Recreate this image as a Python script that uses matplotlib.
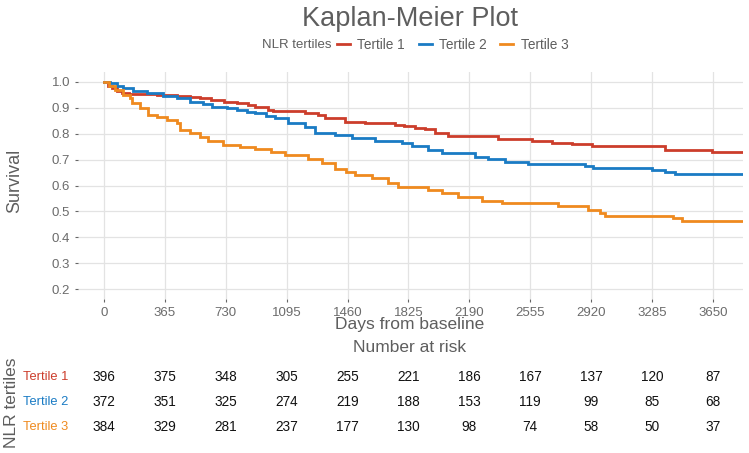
import matplotlib
matplotlib.use("Agg")
import matplotlib.pyplot as plt
from matplotlib.lines import Line2D

plt.rcParams['font.family'] = ['Liberation Sans Narrow', 'Liberation Sans', 'DejaVu Sans']

# ---- data ----
t1_days = [0, 25, 50, 76, 110, 150, 216, 316, 436, 516, 576, 640, 720, 800, 860, 905, 985, 1010, 1205, 1285, 1325,
           1445, 1565, 1744, 1800, 1864, 1924, 1984, 2064, 2364, 2564, 2684, 2804, 2923, 3362, 3642, 3840]
t1_surv = [1.0, 0.985, 0.975, 0.965, 0.959, 0.955, 0.952, 0.950, 0.946, 0.941, 0.937, 0.930, 0.924, 0.918, 0.910,
           0.905, 0.892, 0.889, 0.882, 0.873, 0.860, 0.847, 0.840, 0.834, 0.828, 0.821, 0.817, 0.802, 0.792, 0.781,
           0.772, 0.766, 0.759, 0.751, 0.737, 0.728, 0.728]

t2_days = [0, 36, 76, 116, 176, 256, 356, 436, 516, 595, 650, 736, 800, 856, 905, 970, 1025, 1103, 1205, 1265, 1385,
           1484, 1624, 1784, 1844, 1944, 2024, 2224, 2304, 2404, 2544, 2883, 2933, 3283, 3363, 3423, 3840]
t2_surv = [1.0, 0.995, 0.985, 0.976, 0.966, 0.956, 0.946, 0.937, 0.924, 0.915, 0.905, 0.898, 0.890, 0.885, 0.879,
           0.870, 0.860, 0.840, 0.827, 0.804, 0.795, 0.783, 0.770, 0.763, 0.753, 0.737, 0.725, 0.712, 0.703, 0.692,
           0.682, 0.676, 0.669, 0.660, 0.654, 0.646, 0.646]

t3_days = [0, 30, 66, 114, 156, 166, 216, 264, 316, 376, 436, 456, 516, 575, 624, 716, 816, 905, 1000, 1085, 1225,
           1305, 1385, 1450, 1505, 1604, 1704, 1764, 1944, 2024, 2124, 2264, 2384, 2724, 2903, 2973, 3003, 3413,
           3463, 3840]
t3_surv = [1.0, 0.985, 0.968, 0.949, 0.937, 0.918, 0.898, 0.873, 0.866, 0.853, 0.840, 0.815, 0.802, 0.789, 0.770,
           0.757, 0.748, 0.740, 0.728, 0.718, 0.701, 0.686, 0.663, 0.652, 0.641, 0.628, 0.609, 0.593, 0.583, 0.570,
           0.555, 0.542, 0.534, 0.519, 0.506, 0.493, 0.483, 0.474, 0.463, 0.463]

series_names = ["Tertile 1", "Tertile 2", "Tertile 3"]
colors = ["#CC3D2B", "#1A7BC4", "#EF8A1F"]

x_ticks = [0, 365, 730, 1095, 1460, 1825, 2190, 2555, 2920, 3285, 3650]
y_ticks = [0.2, 0.3, 0.4, 0.5, 0.6, 0.7, 0.8, 0.9, 1.0]

risk_t1 = [396, 375, 348, 305, 255, 221, 186, 167, 137, 120, 87]
risk_t2 = [372, 351, 325, 274, 219, 188, 153, 119, 99, 85, 68]
risk_t3 = [384, 329, 281, 237, 177, 130, 98, 74, 58, 50, 37]

# ---- figure ----
W, H = 749, 453
fig = plt.figure(figsize=(W / 100, H / 100), dpi=100)
fig.patch.set_facecolor('white')
GRAY = '#5e5e5e'


def fx(px):
    return px / W


def fy(py):
    return 1 - py / H


left, right, top, bottom = 78, 743, 71.6, 299.4
ax = fig.add_axes([fx(left), fy(bottom), fx(right - left), (bottom - top) / H])
xlim = (-156, 3830)
ax.set_xlim(*xlim)
ax.set_ylim(0.16, 1.04)

for d, s, c in zip([t1_days, t2_days, t3_days], [t1_surv, t2_surv, t3_surv], colors):
    ax.step(d, s, where='post', color=c, lw=2.0, solid_joinstyle='miter', zorder=3)

ax.set_xticks(x_ticks)
ax.set_xticklabels([str(v) for v in x_ticks])
ax.set_yticks(y_ticks)
ax.set_yticklabels([f"{v:.1f}" for v in y_ticks])
ax.grid(True, color='#e3e3e3', lw=0.9)
ax.set_axisbelow(True)
for sp in ax.spines.values():
    sp.set_visible(False)
ax.tick_params(axis='both', length=2.5, width=0.8, color='#666666', labelcolor='#6b6b6b',
               labelsize=9.5, pad=3)

fig.text(fx(410), fy(325), "Days from baseline", fontsize=12.5, color=GRAY, ha='center', va='center')
fig.text(fx(15), fy(181), "Survival", fontsize=13, color=GRAY, ha='center', va='center', rotation=90)

# title
fig.text(fx(410), fy(19), "Kaplan-Meier Plot", fontsize=19.5, color=GRAY, ha='center', va='center')

# legend
fig.text(fx(262), fy(45), "NLR tertiles", fontsize=9.5, color=GRAY, ha='left', va='center')
handles = [Line2D([], [], color=c, lw=2.0) for c in colors]
fig.legend(handles, series_names, loc='center left', bbox_to_anchor=(fx(337), fy(45)), ncol=3,
           frameon=False, fontsize=9.8, handlelength=0.95, handletextpad=0.55, columnspacing=1.0,
           labelcolor=GRAY, borderaxespad=0, borderpad=0)

# risk table
rax = fig.add_axes([fx(left), fy(445), fx(right - left), 100 / H])
rax.set_xlim(*xlim)
rax.set_ylim(445, 345)
rax.axis('off')
fig.text(fx(410), fy(348), "Number at risk", fontsize=12.5, color=GRAY, ha='center', va='center')
row_y = [377, 402, 427]
for rv, ry, name, c in zip([risk_t1, risk_t2, risk_t3], row_y, series_names, colors):
    for xv, n in zip(x_ticks, rv):
        rax.text(xv, ry, str(n), fontsize=9.8, color='#111111', ha='center', va='center')
    fig.text(fx(68), fy(ry), name, fontsize=9.3, color=c, ha='right', va='center')
fig.text(fx(12), fy(403), "NLR tertiles", fontsize=12.5, color=GRAY, ha='center', va='center',
         rotation=90)

fig.savefig("out.png", dpi=100)
